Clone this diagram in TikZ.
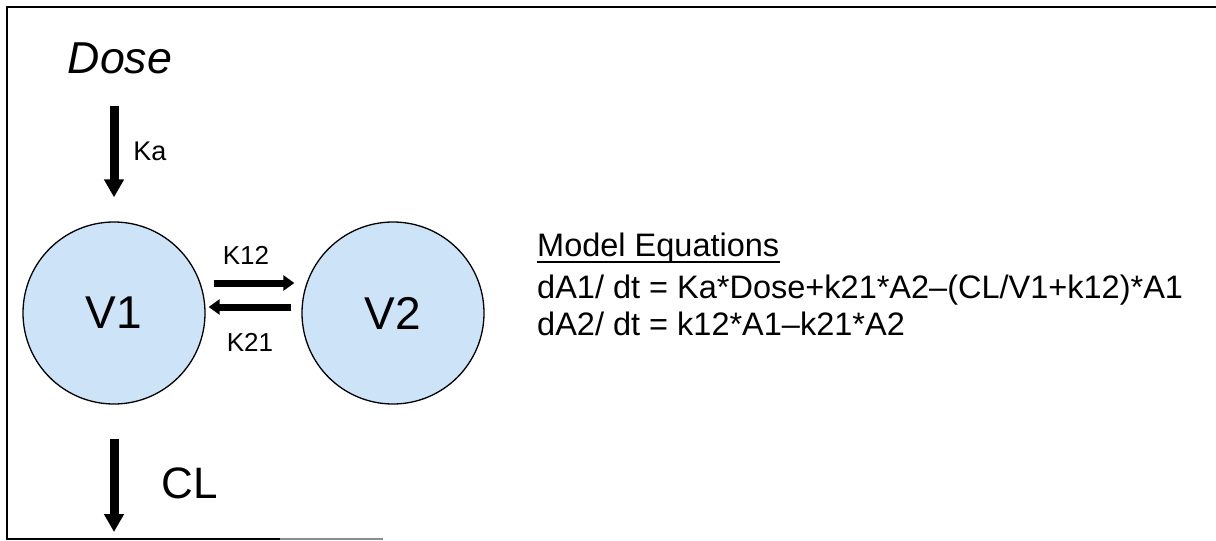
\documentclass[tikz,border=0pt]{standalone}
\usepackage{fontspec}
\setmainfont{Liberation Sans}
\usetikzlibrary{arrows.meta,positioning}

\definecolor{compfill}{RGB}{205,228,248}

\tikzset{
  comp/.style={circle, draw=black, line width=1.3pt, fill=compfill,
    minimum size=182pt, inner sep=0pt, font=\fontsize{46}{50}\selectfont},
  bigarrow/.style={line width=9pt, -{Triangle[width=19pt,length=18pt]}},
  ratearrow/.style={line width=7pt, -{Triangle[width=15pt,length=11pt]}},
  ratelabel/.style={inner sep=0pt, font=\fontsize{26}{30}\selectfont},
  eqtext/.style={inner sep=0pt, anchor=base west, font=\fontsize{32.5}{36}\selectfont},
}

\begin{document}
\begin{tikzpicture}[x=1pt, y=-1pt]
    \useasboundingbox (0,0) rectangle (1216,541);

    % Cornice
    \draw[line width=2pt] (1216,7) -- (7,7) -- (7,539) -- (280,539);
    \draw[line width=2pt, black!45] (280,539) -- (383,539);

    % Compartimenti
    \node[comp] (v1) at (114,313) {V1};
    \node[comp] (v2) at (393,313) {V2};

    % Dose e assorbimento
    \node[inner sep=0pt, font=\fontsize{44.7}{50}\selectfont\itshape] (dose) at (120,58) {Dose};
    \coordinate (dosein) at (114,106);
    \draw[bigarrow] (dosein) -- ([yshift=24pt]v1.north);
    \node[ratelabel, font=\fontsize{27}{30}\selectfont] (ka) at (150,151) {Ka};

    % Eliminazione
    \coordinate (elim) at (114,532);
    \draw[bigarrow, shorten <=34pt] (v1) -- (elim);
    \node[inner sep=0pt, font=\fontsize{44}{50}\selectfont] (cl) at (190,483) {CL};

    % Scambio tra compartimenti
    \draw[ratearrow, shorten <=8pt, shorten >=7pt] ([yshift=30pt]v1.east) -- ([yshift=30pt]v2.west);
    \draw[ratearrow, shorten <=10pt, shorten >=3pt] ([yshift=6pt]v2.west) -- ([yshift=6pt]v1.east);
    \node[ratelabel] (k12) at (246,255) {K12};
    \node[ratelabel] (k21) at (250,342) {K21};

    % Equazioni
    \node[eqtext] (meq) at (537,256) {Model Equations};
    \draw[line width=1.6pt] ([yshift=-6pt]meq.base west) -- ([yshift=-6pt]meq.base east);
    \node[eqtext] (eq1) at (537,298) {dA1/ dt = Ka*Dose+k21*A2–(CL/V1+k12)*A1};
    \node[eqtext] (eq2) at (537,335) {dA2/ dt = k12*A1–k21*A2};
\end{tikzpicture}
\end{document}
